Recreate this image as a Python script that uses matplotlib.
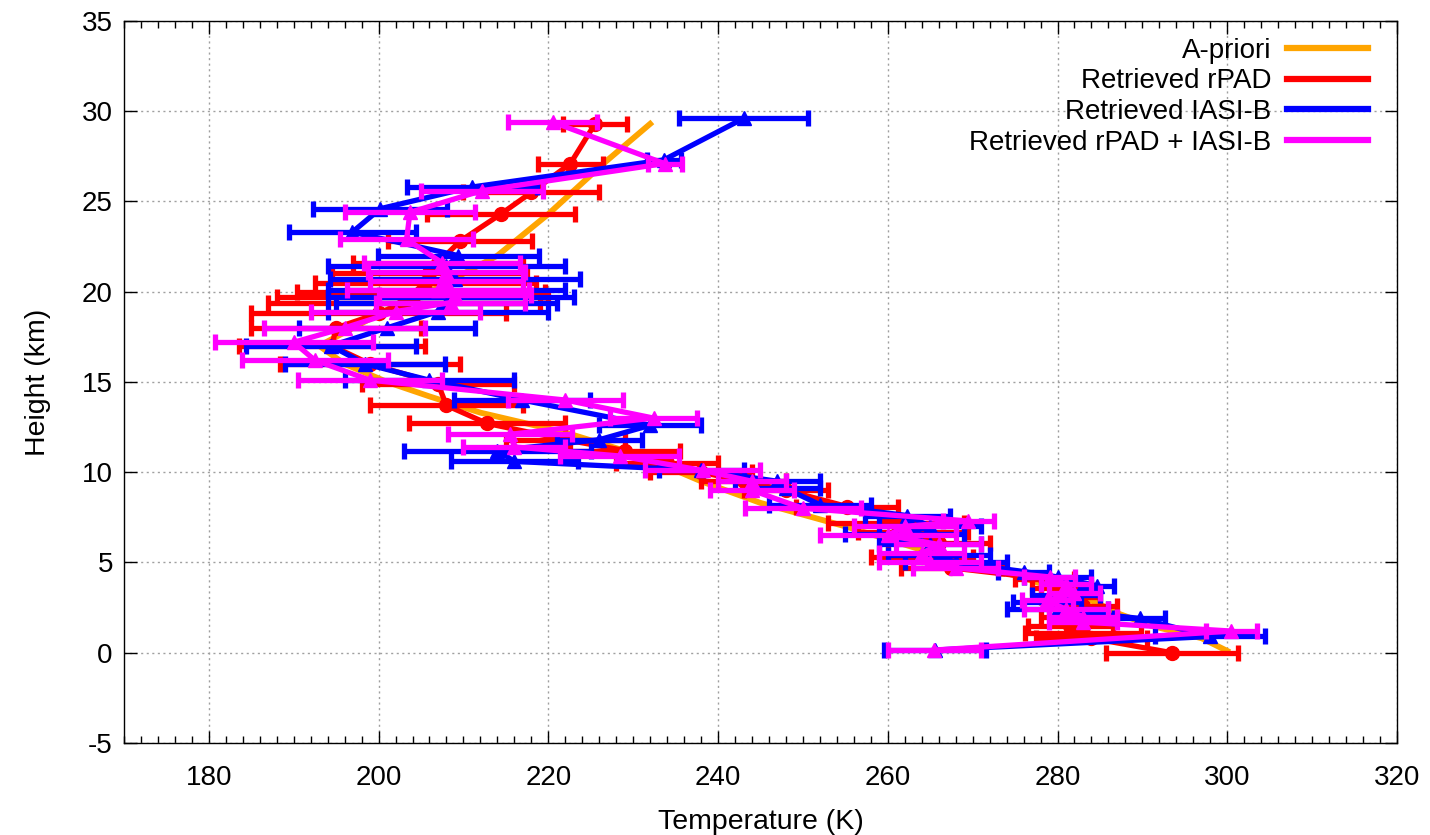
import matplotlib
matplotlib.use('Agg')
import matplotlib.pyplot as plt
from matplotlib.ticker import MultipleLocator
from matplotlib.lines import Line2D

plt.rcParams['font.family'] = ['Liberation Sans', 'DejaVu Sans']
plt.rcParams['axes.unicode_minus'] = False

# a-priori profile (no error bars)
apr_z = [0.1, 0.8, 1.5, 2.2, 2.8, 3.7, 4.7, 5.7, 7.0, 8.3, 9.5, 10.9, 12.2, 13.3, 14.2,
         15.0, 16.0, 17.0, 18.0, 19.0, 20.0, 21.0, 22.0, 24.3, 27.1, 29.3]
apr_T = [300, 297, 291, 287, 284.5, 279, 272, 264, 255, 245, 238, 231, 222, 212, 206,
         201, 196, 193, 197, 201, 206, 210, 214, 220, 226.5, 232]

# retrieved rPAD
red_z = [0.0, 0.8, 1.1, 1.5, 2.0, 2.6, 3.1, 3.6, 4.1, 4.7, 5.3, 6.1, 6.7, 7.2, 8.1, 9.0,
         9.5, 10.0, 10.5, 11.2, 11.8, 12.7, 13.7, 14.9, 16.0, 17.0, 18.0, 18.8, 19.4,
         19.7, 20.0, 20.5, 21.05, 21.6, 22.8, 24.3, 25.5, 27.1, 29.3]
red_T = [293.5, 284, 283, 281.5, 282, 283, 281.5, 280.5, 278.5, 267.5, 264, 266, 263,
         261, 255.2, 248, 243, 238, 234, 229, 222, 212.8, 208, 207, 199, 194.5, 195, 200,
         203, 204, 205, 205.5, 206, 207, 209.6, 214.4, 218, 222.6, 225.5]
red_e = [7.8, 6.5, 6.8, 5, 4, 4, 3.5, 3.5, 3.5, 6, 6, 6, 6.5, 8, 6, 5, 5, 6, 6, 6.5, 7,
         9.2, 9, 9, 10.6, 11, 10, 15, 16, 16, 14.6, 13, 11.5, 10, 8.5, 8.7, 8, 3.8, 3.8]

# retrieved IASI-B
blue_z = [0.15, 0.9, 1.9, 2.4, 2.8, 3.2, 3.7, 4.2, 4.5, 5.0, 5.4, 6.0, 6.6, 7.0, 7.6,
          8.2, 9.1, 9.5, 10.1, 10.6, 11.2, 11.8, 12.6, 14.0, 15.1, 16.0, 17.0, 18.0,
          18.9, 19.4, 19.7, 20.1, 20.7, 21.4, 22.0, 23.3, 24.6, 25.8, 27.3, 29.6]
blue_T = [265.6, 298, 289.7, 280, 278.8, 281, 284.7, 280, 276, 268, 266, 265, 262, 265,
          262.3, 252, 248, 247, 238, 216, 214, 226, 232, 216.9, 206, 198.4, 194.4, 201,
          207, 208, 208.5, 208, 209, 208, 209.4, 196.9, 200.2, 211, 233.6, 243]
blue_e = [6, 6.5, 3, 6, 4, 4, 2, 4, 3, 6, 6, 6, 7, 6, 5, 6, 4, 5, 5, 7.5, 11, 5, 6, 8,
          9.9, 9.4, 10, 10.4, 13, 13, 14.5, 14, 14.7, 14, 9.5, 7.5, 7.9, 7.7, 2, 7.6]

# retrieved rPAD + IASI-B
mag_z = [0.15, 1.2, 1.7, 2.0, 2.4, 2.9, 3.3, 3.8, 4.2, 4.7, 5.0, 5.5, 6.0, 6.5, 7.0,
         7.3, 8.0, 9.0, 9.5, 10.1, 10.9, 11.4, 12.1, 13.0, 14.0, 15.1, 16.2, 17.2, 18.0,
         18.9, 19.4, 19.8, 20.1, 20.6, 21.1, 21.6, 22.9, 24.4, 25.6, 27.1, 29.4]
mag_T = [265.5, 300.5, 283, 283, 281, 278.8, 282, 281, 279.1, 268, 265, 264, 266, 260,
         262, 269.5, 250, 244, 244, 238.2, 228.4, 216, 215.5, 232.4, 222, 199, 192.5, 190,
         196, 202, 208.5, 209, 207, 208, 208, 207.5, 203.3, 203.7, 212.2, 233.7, 220.5]
mag_e = [5.5, 3, 4, 4, 5, 3, 3, 3, 3, 5, 6, 5, 5, 8, 6, 3, 6.8, 5, 4, 6.8, 7, 6, 7.3,
         5.1, 6.8, 8.5, 8.6, 9.3, 9.5, 10, 8.8, 9, 10.7, 9, 9.3, 9.2, 7.8, 7.7, 7.2, 2, 5.2]

fig = plt.figure(figsize=(14.3, 8.35), dpi=100)
ax = fig.add_axes([0.0867, 0.1102, 0.8902, 0.8647])

lw = 3.8
ax.plot(apr_T, apr_z, color='#FFA500', lw=lw + 0.4, label='A-priori', zorder=2)
ax.errorbar(red_T, red_z, xerr=red_e, fmt='-o', color='#FF0000', lw=lw, elinewidth=lw,
            capsize=5.5, capthick=lw, markersize=10, label='Retrieved rPAD', zorder=3)
ax.errorbar(blue_T, blue_z, xerr=blue_e, fmt='-^', color='#0000FF', lw=lw, elinewidth=lw,
            capsize=5.5, capthick=lw, markersize=10, label='Retrieved IASI-B', zorder=4)
ax.errorbar(mag_T, mag_z, xerr=mag_e, fmt='-^', color='#FF00FF', lw=lw, elinewidth=lw,
            capsize=5.5, capthick=lw, markersize=10, label='Retrieved rPAD + IASI-B', zorder=5)

ax.set_xlim(170, 320)
ax.set_ylim(-5, 35)
ax.xaxis.set_major_locator(MultipleLocator(20))
ax.xaxis.set_minor_locator(MultipleLocator(2))
ax.yaxis.set_major_locator(MultipleLocator(5))
ax.tick_params(which='both', direction='in', top=True, right=True, labelsize=20)
ax.tick_params(which='major', length=9, width=1, pad=8)
ax.tick_params(axis='x', which='major', pad=16)
ax.tick_params(which='minor', length=5, width=1)
ax.grid(True, which='major', color='#A0A0A0', linestyle=(0, (1.5, 2.5)), linewidth=1)
for s in ax.spines.values():
    s.set_linewidth(1)

ax.set_xlabel('Temperature (K)', fontsize=20.5, labelpad=13)
ax.set_ylabel('Height (km)', fontsize=20.5, labelpad=22)

labels = ['A-priori', 'Retrieved rPAD', 'Retrieved IASI-B', 'Retrieved rPAD + IASI-B']
hs = [Line2D([], [], color=c, lw=4.5) for c in ['#FFA500', '#FF0000', '#0000FF', '#FF00FF']]
ax.legend(hs, labels, loc='upper right', frameon=False, markerfirst=False, fontsize=20,
          handlelength=2.9, handletextpad=0.55, labelspacing=0.17, borderaxespad=0.2,
          bbox_to_anchor=(0.99, 1.0))

fig.savefig('out.png', dpi=100)
